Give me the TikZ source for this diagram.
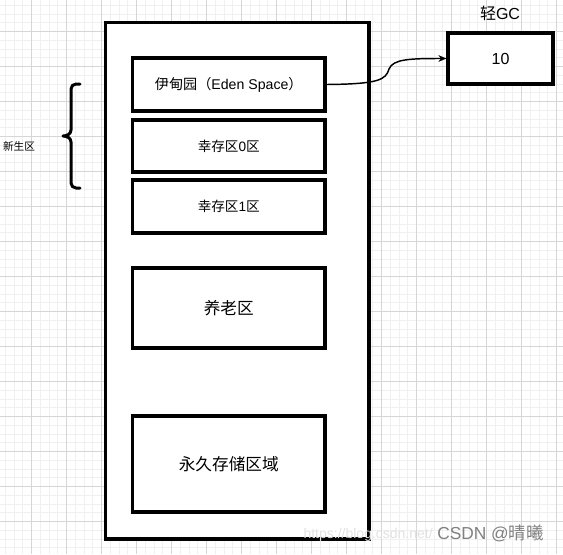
\documentclass[tikz,border=0pt]{standalone}
\usepackage{fontspec}
\setmainfont{Liberation Sans}
\newfontfamily\cjk{Noto Sans CJK SC}
\usetikzlibrary{arrows.meta}
\definecolor{gridmajor}{HTML}{D6D6D6}
\definecolor{gridminor}{HTML}{F0F0F0}
\definecolor{wmgray}{HTML}{808080}
\definecolor{wmlight}{HTML}{E2E2E2}
\begin{document}
\begin{tikzpicture}[x=0.75pt,y=-0.75pt,
  box/.style={draw=black, line width=2.4pt, fill=white, inner sep=0pt, align=center},
  minorline/.style={draw=gridminor, line width=0.75pt},
  majorline/.style={draw=gridmajor, line width=0.75pt},
  label/.style={inner sep=0pt, align=center},
  bracestroke/.style={draw=black, line width=2.25pt, line cap=round, line join=round},
  conn/.style={draw=black, line width=1.1pt, -{Stealth[length=6pt,width=5pt]}}
]
\useasboundingbox (0,0) rectangle (563,554);
\fill[white] (0,0) rectangle (563,554);
% grid
\foreach \i in {0,...,65} {
  \draw[minorline] ({-3.5+8.75*\i},0) -- ({-3.5+8.75*\i},554);
  \draw[minorline] (0,{-3.5+8.75*\i}) -- (563,{-3.5+8.75*\i});
}
\foreach \i in {0,...,16} {
  \draw[majorline] ({-3.5+35*\i},0) -- ({-3.5+35*\i},554);
  \draw[majorline] (0,{-3.5+35*\i}) -- (563,{-3.5+35*\i});
}
% outer heap box
\node[box, minimum width=263.5*0.75pt, minimum height=516.5*0.75pt] (heap) at (237.25,280.75) {};
% inner regions
\node[box, minimum width=192.5*0.75pt, minimum height=53*0.75pt, font=\fontsize{10.6}{12}\selectfont] (eden) at (228.75,84.5) {{\cjk 伊甸园（}Eden Space{\cjk ）}};
\node[box, minimum width=192.5*0.75pt, minimum height=52*0.75pt, font=\fontsize{10.2}{12}\selectfont] (s0) at (228.75,146) {{\cjk 幸存区}0{\cjk 区}};
\node[box, minimum width=192.5*0.75pt, minimum height=53*0.75pt, font=\fontsize{10.2}{12}\selectfont] (s1) at (228.75,206.5) {{\cjk 幸存区}1{\cjk 区}};
\node[box, minimum width=192.5*0.75pt, minimum height=80*0.75pt, font=\fontsize{12.5}{15}\selectfont] (old) at (228.75,308) {\cjk 养老区};
\node[box, minimum width=192.5*0.75pt, minimum height=96*0.75pt, font=\fontsize{12.5}{15}\selectfont] (perm) at (228.75,464) {\cjk 永久存储区域};
% minor GC counter
\node[box, minimum width=105*0.75pt, minimum height=51*0.75pt, font=\fontsize{12}{14}\selectfont] (ten) at (500.5,58.5) {10};
\node[label, font=\fontsize{12}{14}\selectfont] (gc) at (500,13) {{\cjk 轻}GC};
% connector
\coordinate (bend) at (389,69);
\draw[conn] (eden.east) .. controls (378,84) and (386,80) .. (bend) .. controls (393,59) and (410,58.5) .. (ten.west);
% brace for young generation
\draw[bracestroke] (80,84) -- (76,84) to[out=180,in=90] (71,89) -- (71,130) to[out=-90,in=0] (63,136)
  to[out=0,in=90] (71,142) -- (71,183) to[out=-90,in=180] (76,188) -- (80,188);
\node[label, font=\fontsize{8}{10}\selectfont] (young) at (19,146) {\cjk 新生区};
% watermark
\node[label, anchor=east, text=wmlight, font=\fontsize{10.5}{12}\selectfont] (url) at (433,535) {https://blog.csdn.net/};
\node[label, anchor=west, text=wmgray, font=\fontsize{13}{15}\selectfont] (wm) at (437,533) {CSDN @{\cjk 晴曦}};
\end{tikzpicture}
\end{document}
